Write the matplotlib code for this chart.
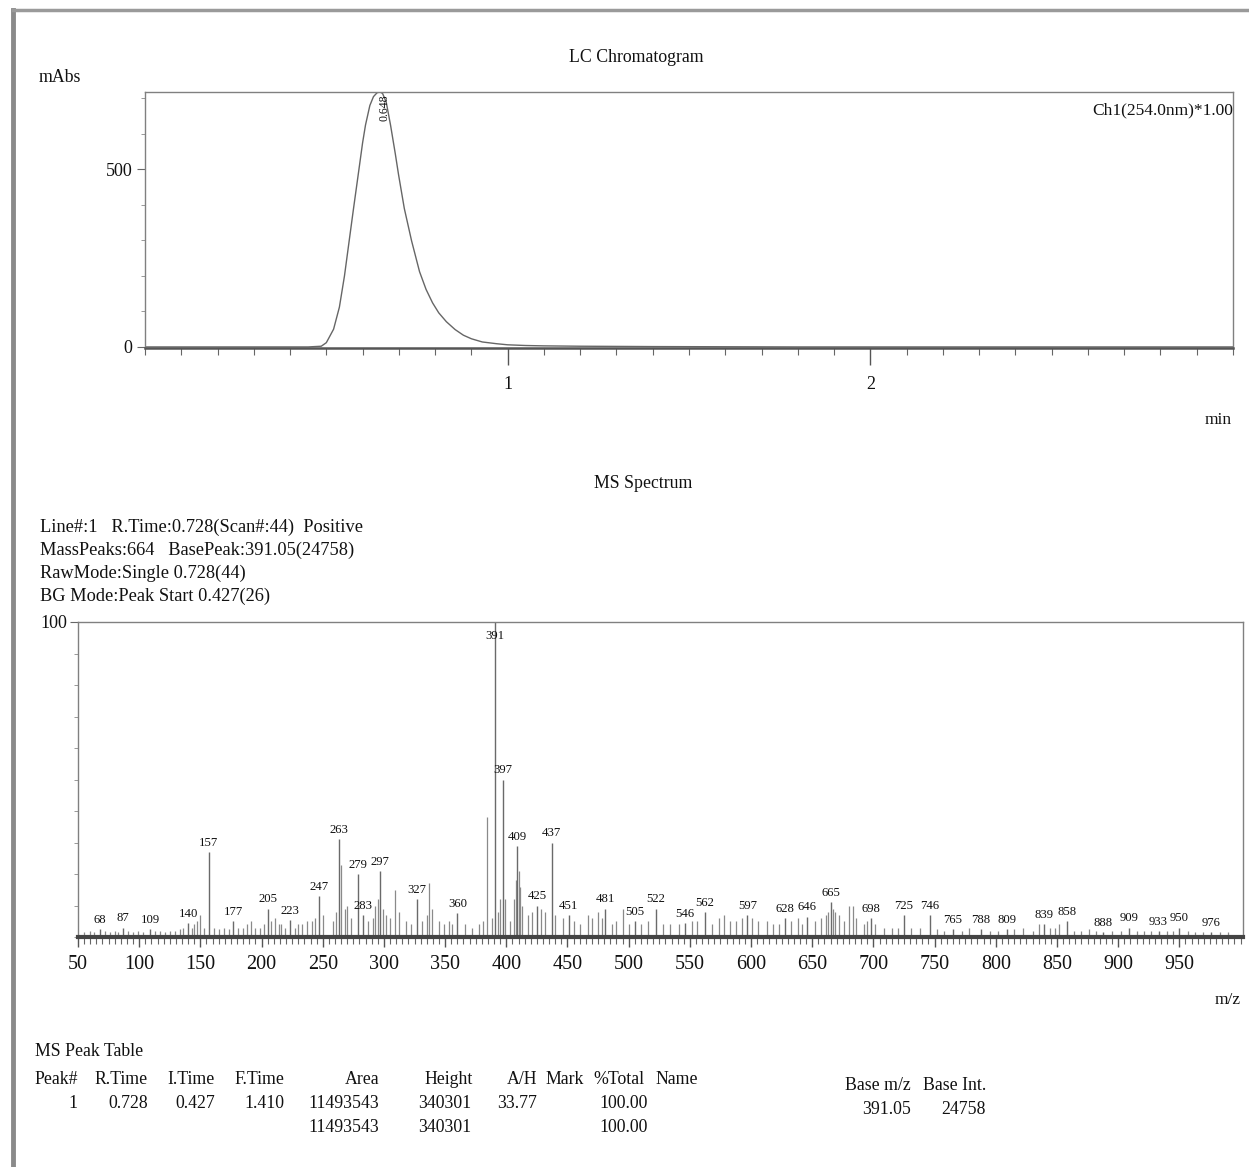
import matplotlib
matplotlib.use('Agg')
import matplotlib.pyplot as plt
from matplotlib.lines import Line2D
from matplotlib.ticker import MultipleLocator

plt.rcParams['font.family'] = ['Liberation Serif', 'DejaVu Serif']

# ---------------- data ----------------
lc_time = [0.00, 0.30, 0.45, 0.486, 0.50, 0.52, 0.536, 0.55, 0.563, 0.575, 0.588, 0.60,
           0.608, 0.62, 0.63, 0.64, 0.648, 0.655, 0.665, 0.677, 0.69, 0.699, 0.715,
           0.735, 0.757, 0.775, 0.793, 0.81, 0.831, 0.855, 0.878, 0.90, 0.93, 0.97,
           1.00, 1.05, 1.10, 1.20, 1.40, 1.80, 2.40, 3.00]
lc_mabs = [0, 0, 0, 2, 12, 50, 112, 200, 299, 390, 486, 575,
           625, 680, 705, 716, 718, 714, 690, 625, 545, 486, 390,
           299, 212, 162, 124, 96, 71, 49, 33, 23, 14, 9,
           6, 4, 3, 2, 1, 0, 0, 0]
lc_peak_label = "0.648"
lc_xticks = [1, 2]
lc_yticks = [0, 500]

ms_label_mz = [68, 87, 109, 140, 157, 177, 205, 223, 247, 263, 279, 283, 297, 327, 360,
               391, 397, 409, 425, 437, 451, 481, 505, 522, 546, 562, 597, 628, 646, 665,
               698, 725, 746, 765, 788, 809, 839, 858, 888, 909, 933, 950, 976]
ms_label_int = [2.5, 3, 2.5, 4.5, 27, 5, 9, 5.5, 13, 31, 20, 7, 21, 12, 7.5,
                100, 50, 29, 10, 30, 7, 9, 5, 9, 4.5, 8, 7, 6, 6.5, 11,
                6, 7, 7, 2.5, 2.5, 2.5, 4, 5, 1.5, 3, 2, 3, 1.5]

ms_other_mz = [55, 60, 63, 72, 76, 80, 83, 91, 95, 99, 103, 113, 117, 121, 125, 129, 133,
               136, 143, 145, 147, 150, 153, 161, 165, 169, 173, 181, 185, 188, 191, 195,
               199, 202, 208, 211, 214, 216, 219, 227, 230, 233, 237, 241, 244, 250, 258,
               261, 265, 268, 270, 273, 287, 291, 293, 295, 299, 302, 305, 309, 312, 318,
               322, 331, 335, 337, 339, 345, 349, 353, 356, 366, 372, 378, 381, 384, 388,
               393, 395, 399, 403, 406, 408, 410, 411, 413, 418, 421, 428, 432, 440, 446,
               455, 460, 467, 470, 475, 478, 486, 490, 495, 500, 510, 516, 528, 534, 541,
               552, 556, 568, 574, 578, 583, 588, 593, 601, 606, 613, 618, 623, 633, 638,
               642, 652, 657, 661, 663, 667, 669, 672, 676, 680, 683, 686, 692, 695, 701,
               709, 715, 720, 731, 738, 752, 758, 772, 778, 795, 802, 815, 822, 830, 835,
               844, 848, 852, 864, 870, 876, 882, 895, 902, 915, 921, 927, 940, 945, 957,
               963, 969, 983, 990]
ms_other_int = [1.5, 2, 1.5, 2, 1.5, 2, 1.5, 2, 1.5, 2, 1.5, 2, 2, 1.5, 2, 2, 2.5,
                3, 3, 4, 5, 7, 3, 3, 2.5, 3, 2.5, 3, 3, 4, 5, 3,
                3, 4, 5, 6, 4, 4, 3, 3, 4, 4, 5, 5, 6, 7, 5,
                8, 23, 9, 10, 6, 5, 6, 10, 12, 9, 7, 6, 15, 8, 5,
                4, 5, 7, 17, 9, 5, 4, 5, 4, 4, 3, 4, 5, 38, 6,
                8, 12, 12, 5, 12, 18, 21, 16, 10, 7, 8, 9, 8, 7, 6,
                5, 4, 7, 6, 8, 6, 4, 5, 9, 4, 4, 5, 4, 4, 4,
                5, 5, 4, 6, 7, 5, 5, 6, 6, 5, 5, 4, 4, 5, 6,
                4, 5, 6, 7, 8, 9, 8, 7, 5, 10, 10, 6, 4, 5, 4,
                3, 3, 3, 3, 3, 2.5, 2, 2, 3, 2, 2, 2.5, 3, 2, 4,
                3, 3, 4, 2, 2, 2.5, 2, 2, 2, 2, 2, 2, 2, 2, 2,
                1.5, 1.5, 1.5, 1.5]
ms_xticks = list(range(50, 1000, 50))

header_lines = ["Line#:1   R.Time:0.728(Scan#:44)  Positive",
                "MassPeaks:664   BasePeak:391.05(24758)",
                "RawMode:Single 0.728(44)",
                "BG Mode:Peak Start 0.427(26)"]

table_title = "MS Peak Table"
table_header = ["Peak#", "R.Time", "I.Time", "F.Time", "Area", "Height", "A/H", "Mark", "%Total", "Name"]
table_row1 = ["1", "0.728", "0.427", "1.410", "11493543", "340301", "33.77", "", "100.00", ""]
table_row2 = ["", "", "", "", "11493543", "340301", "", "", "100.00", ""]
base_header = ["Base m/z", "Base Int."]
base_row = ["391.05", "24758"]

# ---------------- figure ----------------
W, H = 1249, 1167
fig = plt.figure(figsize=(W / 100, H / 100), dpi=100)
fig.patch.set_facecolor('white')
TXT = '#111111'
SP = '#808080'


def fx(px):
    return px / W


def fy(py):
    return 1 - py / H


def ftext(px, py, s, **kw):
    kw.setdefault('color', TXT)
    kw.setdefault('fontsize', 12.8)
    kw.setdefault('va', 'center')
    fig.text(fx(px), fy(py), s, **kw)


# page border (scan)
fig.add_artist(Line2D([fx(13), fx(13)], [fy(10), fy(1167)], color='#8a8a8a', lw=3.5))
fig.add_artist(Line2D([fx(13), fx(1249)], [fy(10), fy(10)], color='#9a9a9a', lw=2.5))

# ---------------- LC chromatogram ----------------
ax1 = fig.add_axes([fx(145), fy(348), fx(1233) - fx(145), fy(92) - fy(348)])
ax1.plot(lc_time, lc_mabs, color='#666666', lw=1.0)
ax1.set_xlim(0, 3.0)
ax1.set_ylim(-3, 718)
ax1.set_xticks(lc_xticks)
ax1.set_xticklabels([str(v) for v in lc_xticks])
ax1.xaxis.set_minor_locator(MultipleLocator(0.1))
ax1.set_yticks(lc_yticks)
ax1.set_yticklabels([str(v) for v in lc_yticks])
ax1.yaxis.set_minor_locator(MultipleLocator(100))
ax1.tick_params(axis='x', which='major', length=12, width=1.0, color='#555', pad=8,
                labelsize=13, labelcolor=TXT)
ax1.tick_params(axis='x', which='minor', length=5, width=0.8, color='#666')
ax1.tick_params(axis='y', which='major', length=6, width=0.8, color='#666', pad=3,
                labelsize=13, labelcolor=TXT)
ax1.tick_params(axis='y', which='minor', length=3, width=0.6, color='#888')
for s in ['left', 'top', 'right']:
    ax1.spines[s].set_color(SP)
    ax1.spines[s].set_linewidth(1.0)
ax1.spines['bottom'].set_color('#555')
ax1.spines['bottom'].set_linewidth(1.8)
ax1.text(0.66, 712, lc_peak_label, rotation=90, ha='center', va='top', fontsize=8.5, color=TXT)
ax1.text(1.0, 0.93, "Ch1(254.0nm)*1.00", transform=ax1.transAxes, ha='right', va='center',
         fontsize=12.5, color=TXT)

ftext(636, 57, "LC Chromatogram", ha='center')
ftext(60, 77, "mAbs", ha='center')
ftext(1218, 420, "min", ha='center', fontsize=12.5)

# ---------------- MS spectrum ----------------
ftext(643, 484, "MS Spectrum", ha='center')
for i, line in enumerate(header_lines):
    ftext(40, 527 + i * 23, line, ha='left', fontsize=13.2)

ax2 = fig.add_axes([fx(78), fy(937), fx(1243) - fx(78), fy(622) - fy(937)])
ax2.vlines(ms_other_mz, 0, ms_other_int, color='#8a8a8a', lw=0.9)
ax2.vlines(ms_label_mz, 0, ms_label_int, color='#6a6a6a', lw=1.0)
for mz, h in zip(ms_label_mz, ms_label_int):
    ax2.text(mz, min(h + 1.0, 93.5), str(mz), ha='center', va='bottom', fontsize=9.2, color=TXT)
ax2.set_xlim(50, 1002)
ax2.set_ylim(0, 100)
ax2.set_xticks(ms_xticks)
ax2.set_xticklabels([str(v) for v in ms_xticks])
ax2.xaxis.set_minor_locator(MultipleLocator(5))
ax2.set_yticks([100])
ax2.set_yticklabels(["100"])
ax2.yaxis.set_minor_locator(MultipleLocator(10))
ax2.tick_params(axis='x', which='major', length=7, width=1.0, color='#555', pad=6,
                labelsize=14.5, labelcolor=TXT)
ax2.tick_params(axis='x', which='minor', length=5, width=0.8, color='#666')
ax2.tick_params(axis='y', which='major', length=6, width=0.8, color='#666', pad=2,
                labelsize=13, labelcolor=TXT)
ax2.tick_params(axis='y', which='minor', length=3, width=0.6, color='#888')
for s in ['left', 'top', 'right']:
    ax2.spines[s].set_color(SP)
    ax2.spines[s].set_linewidth(1.0)
ax2.spines['bottom'].set_color('#444')
ax2.spines['bottom'].set_linewidth(3.0)
ftext(1228, 1000, "m/z", ha='center', fontsize=12.5)

# ---------------- MS peak table ----------------
ftext(35, 1052, table_title, ha='left')
col_right = [78, 148, 215, 284, 379, 473, 537, 584, 645, 698]
val_right = [77, 148, 215, 284, 379, 471, 537, 584, 648, 698]
for x, s in zip(col_right, table_header):
    ftext(x, 1079, s, ha='right')
for x, s in zip(val_right, table_row1):
    if s:
        ftext(x, 1103, s, ha='right')
for x, s in zip(val_right, table_row2):
    if s:
        ftext(x, 1128, s, ha='right')
for x, s in zip([911, 986], base_header):
    ftext(x, 1085, s, ha='right')
for x, s in zip([911, 986], base_row):
    ftext(x, 1109, s, ha='right')

fig.savefig('out.png', dpi=100, facecolor='white')
